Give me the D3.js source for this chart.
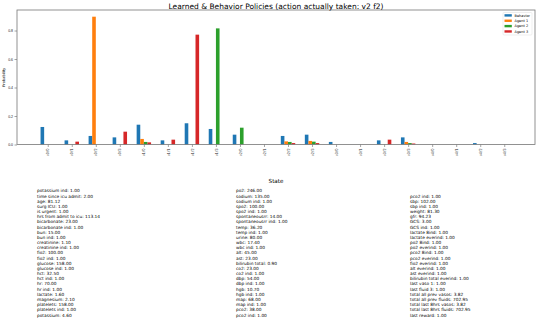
<!DOCTYPE html>
<html>
<head>
<meta charset="utf-8">
<script src="https://cdn.jsdelivr.net/npm/d3@7"></script>
<style>
  body { margin: 0; background: #fff; }
  svg { display: block; font-family: "DejaVu Sans", sans-serif; }
</style>
</head>
<body>
<div id="chart"></div>
<script>
// Learned vs behavior policy bars, plus the state dump below the axes.
const states = ['v0 f0', 'v0 f1', 'v0 f2', 'v0 f3', 'v1 f0', 'v1 f1', 'v1 f2', 'v1 f3',
    'v2 f0', 'v2 f1', 'v2 f2', 'v2 f3', 'v3 f0', 'v3 f1', 'v3 f2', 'v3 f3',
    'v4 f0', 'v4 f1', 'v4 f2', 'v4 f3'];
const seriesNames = ['Behavior', 'Agent 1', 'Agent 2', 'Agent 3'];
const behavior = [0.123, 0.029, 0.060, 0.050, 0.139, 0.029, 0.149, 0.109, 0.069, 0,
    0.060, 0.069, 0.018, 0, 0.029, 0.050, 0, 0, 0.010, 0];
const agent1 = [0, 0, 0.897, 0, 0.039, 0, 0, 0, 0, 0,
    0.022, 0.025, 0, 0, 0, 0.018, 0, 0, 0, 0];
const agent2 = [0, 0, 0, 0, 0.018, 0, 0, 0.815, 0.118, 0,
    0.018, 0.020, 0, 0, 0, 0.010, 0, 0, 0, 0];
const agent3 = [0, 0.020, 0, 0.090, 0.015, 0.034, 0.771, 0, 0, 0,
    0.010, 0.010, 0, 0, 0.034, 0.007, 0, 0, 0, 0];
const yTicks = [0, 0.2, 0.4, 0.6, 0.8];

const stateCol1 = ['potassium ind: 1.00', 'time since icu admit: 2.00', 'age: 81.12', 'surg ICU: 1.00',
    'is urgent: 1.00', 'hrs from admit to icu: 113.14', 'bicarbonate: 23.00', 'bicarbonate ind: 1.00',
    'bun: 15.00', 'bun ind: 1.00', 'creatinine: 1.10', 'creatinine ind: 1.00', 'fio2: 100.00',
    'fio2 ind: 1.00', 'glucose: 158.00', 'glucose ind: 1.00', 'hct: 32.50', 'hct ind: 1.00',
    'hr: 70.00', 'hr ind: 1.00', 'lactate: 1.60', 'magnesium: 2.10', 'platelets: 158.00',
    'platelets ind: 1.00', 'potassium: 4.60'];
const stateCol2 = ['po2: 246.00', 'sodium: 135.00', 'sodium ind: 1.00', 'spo2: 100.00', 'spo2 ind: 1.00',
    'spontaneousrr: 14.00', 'spontaneousrr ind: 1.00', 'temp: 36.20', 'temp ind: 1.00', 'urine: 80.00',
    'wbc: 17.40', 'wbc ind: 1.00', 'alt: 45.00', 'ast: 23.00', 'bilirubin total: 0.90', 'co2: 23.00',
    'co2 ind: 1.00', 'dbp: 54.00', 'dbp ind: 1.00', 'hgb: 10.70', 'hgb ind: 1.00', 'map: 68.00',
    'map ind: 1.00', 'pco2: 38.00', 'pco2 ind: 1.00'];
const stateCol3 = ['pco2 ind: 1.00', 'sbp: 102.00', 'sbp ind: 1.00', 'weight: 81.30', 'gfr: 94.23',
    'GCS: 3.00', 'GCS ind: 1.00', 'lactate 8ind: 1.00', 'lactate everind: 1.00', 'po2 8ind: 1.00',
    'po2 everind: 1.00', 'pco2 8ind: 1.00', 'pco2 everind: 1.00', 'fio2 everind: 1.00',
    'alt everind: 1.00', 'ast everind: 1.00', 'bilirubin total everind: 1.00', 'last vaso 1: 1.00',
    'last fluid 3: 1.00', 'total all prev vasos: 3.82', 'total all prev fluids: 702.95',
    'total last 8hrs vasos: 3.82', 'total last 8hrs fluids: 702.95', 'last reward: 1.00'];

const colors = ['#1f77b4', '#ff7f0e', '#2ca02c', '#d62728'];
const series = [behavior, agent1, agent2, agent3];

const W = 539, H = 322;
const plot = { left: 17, right: 535, top: 10, bottom: 144.5 };
const barW = 0.15;

const svg = d3.select('#chart').append('svg')
    .attr('width', W)
    .attr('height', H);

const x = d3.scaleLinear()
    .domain([-1.28, states.length - 1 + 1.28])
    .range([plot.left, plot.right]);
const y = d3.scaleLinear()
    .domain([0, 0.944])
    .range([plot.bottom, plot.top]);

// bars
series.forEach((vals, k) => {
    const off = -0.3 + k * barW;
    svg.append('g')
        .selectAll('rect')
        .data(vals)
        .join('rect')
        .attr('x', (d, i) => x(i + off))
        .attr('width', x(barW) - x(0))
        .attr('y', d => y(d))
        .attr('height', d => y(0) - y(d))
        .attr('fill', colors[k]);
});

// axes
const xAxis = d3.axisBottom(x)
    .tickValues(d3.range(states.length))
    .tickFormat(i => states[i])
    .tickSize(2.5)
    .tickPadding(1.5);
const gx = svg.append('g')
    .attr('transform', `translate(0,${plot.bottom})`)
    .call(xAxis);
gx.selectAll('text')
    .attr('font-size', 3.5)
    .attr('fill', '#222')
    .attr('transform', 'rotate(-90)')
    .attr('text-anchor', 'end')
    .attr('dy', '0.32em')
    .attr('x', -4)
    .attr('y', 0);

const yAxis = d3.axisLeft(y)
    .tickValues(yTicks)
    .tickFormat(d3.format('.1f'))
    .tickSize(2.5)
    .tickPadding(1.5);
const gy = svg.append('g')
    .attr('transform', `translate(${plot.left},0)`)
    .call(yAxis);
gy.selectAll('text').attr('font-size', 3.5).attr('fill', '#222');

[gx, gy].forEach(g => {
    g.select('.domain').remove();
    g.selectAll('line').attr('stroke', '#666').attr('stroke-width', 0.6);
});

// frame
svg.append('rect')
    .attr('x', plot.left)
    .attr('y', plot.top)
    .attr('width', plot.right - plot.left)
    .attr('height', plot.bottom - plot.top)
    .attr('fill', 'none')
    .attr('stroke', '#777')
    .attr('stroke-width', 0.8);

// title and labels
svg.append('text')
    .attr('x', (plot.left + plot.right) / 2)
    .attr('y', 8.6)
    .attr('text-anchor', 'middle')
    .attr('font-size', 7.5)
    .text('Learned & Behavior Policies (action actually taken: v2 f2)');

svg.append('text')
    .attr('transform', `translate(4,${(plot.top + plot.bottom) / 2}) rotate(-90)`)
    .attr('text-anchor', 'middle')
    .attr('dy', '0.35em')
    .attr('font-size', 3.6)
    .text('Probability');

svg.append('text')
    .attr('x', (plot.left + plot.right) / 2)
    .attr('y', 182.5)
    .attr('text-anchor', 'middle')
    .attr('font-size', 5.6)
    .text('State');

// legend
const leg = svg.append('g').attr('transform', 'translate(503,12.5)');
leg.append('rect')
    .attr('width', 29)
    .attr('height', 22.5)
    .attr('rx', 1)
    .attr('fill', '#fff')
    .attr('stroke', '#ddd')
    .attr('stroke-width', 0.5);
seriesNames.forEach((name, k) => {
    const row = leg.append('g').attr('transform', `translate(0,${2.8 + k * 5.35})`);
    row.append('rect')
        .attr('x', 1.5).attr('y', -1.1)
        .attr('width', 7.3).attr('height', 2.4)
        .attr('fill', colors[k]);
    row.append('text')
        .attr('x', 11.5)
        .attr('dy', '0.35em')
        .attr('font-size', 3.5)
        .text(name);
});

// state dump below the chart
const lineH = 5.17;
function textColumn(lines, x0, yBottom) {
    const y0 = yBottom - (lines.length - 1) * lineH;
    svg.append('g')
        .selectAll('text')
        .data(lines)
        .join('text')
        .attr('x', x0)
        .attr('y', (d, i) => y0 + i * lineH)
        .attr('dy', '0.35em')
        .attr('font-size', 4.3)
        .text(d => d);
}
textColumn(stateCol1, 37, 315);
textColumn(stateCol2, 236, 315);
textColumn(stateCol3, 410, 315);
</script>
</body>
</html>
